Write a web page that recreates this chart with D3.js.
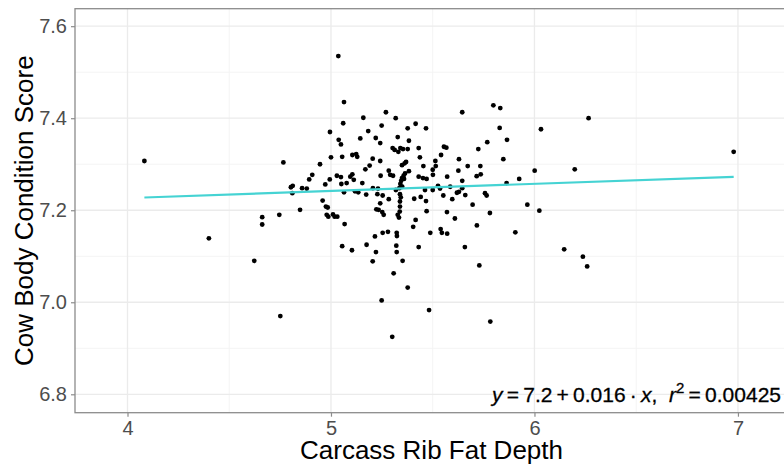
<!DOCTYPE html>
<html>
<head>
<meta charset="utf-8">
<script src="https://cdn.jsdelivr.net/npm/d3@7"></script>
<style>
  html, body { margin: 0; padding: 0; background: #fff; }
  svg { display: block; font-family: "Liberation Sans", Arial, sans-serif; }
</style>
</head>
<body>
<svg id="chart" width="784" height="465"></svg>
<script>
// Carcass rib fat depth (x) vs cow body condition score (y)
const ribFat = [
  5.064, 4.766, 5.270, 5.159, 5.318, 5.060, 5.249, 5.416, 5.377, 5.467,
  5.183, 4.995, 5.645, 5.798, 5.832, 5.829, 5.038, 5.049, 5.144, 5.220,
  5.242, 5.328, 5.383, 5.768, 5.865, 5.303, 5.313, 5.331, 5.341, 5.354,
  5.377, 5.431, 5.555, 5.567, 5.724, 5.000, 5.055, 5.105, 5.124, 5.129,
  5.205, 5.242, 5.437, 5.541, 5.513, 5.629, 5.847, 4.946, 5.190, 5.169,
  5.349, 5.362, 5.369, 5.454, 5.515, 5.500, 5.672, 5.734, 5.284, 5.383,
  5.626, 4.908, 4.893, 4.994, 5.029, 5.049, 5.095, 5.105, 5.112, 5.244,
  5.291, 5.305, 5.364, 5.357, 5.349, 5.345, 5.359, 5.341, 5.431, 5.452,
  5.470, 5.501, 5.571, 5.645, 5.716, 5.736, 5.925, 4.972, 5.051, 5.077,
  5.154, 4.803, 4.812, 4.858, 4.881, 4.810, 5.064, 5.118, 5.134, 5.206,
  5.231, 5.319, 5.336, 5.350, 5.462, 5.500, 5.526, 5.536, 5.586, 5.629,
  5.645, 5.863, 5.173, 5.228, 5.254, 5.339, 5.343, 5.441, 5.552, 5.619,
  5.660, 5.757, 5.765, 4.959, 5.284, 5.339, 5.409, 5.467, 5.596, 4.848,
  4.975, 4.984, 5.242, 5.339, 5.696, 5.223, 5.234, 5.252, 5.259, 5.338,
  5.470, 5.570, 5.781, 4.662, 4.746, 4.979, 4.987, 5.010, 5.018, 5.031,
  5.328, 5.334, 5.416, 5.609, 4.662, 5.067, 5.404, 5.717, 5.216, 5.254,
  5.280, 5.323, 5.324, 5.488, 5.539, 5.545, 5.571, 5.906, 5.055, 5.103,
  5.175, 5.221, 5.321, 5.323, 5.431, 5.658, 4.623, 5.205, 5.352, 5.308,
  5.729, 5.377, 5.249, 5.482, 4.751, 5.783, 5.301, 4.083, 4.400, 5.036,
  6.266, 6.032, 6.001, 6.198, 5.965, 6.024, 6.146, 6.238, 6.259, 6.979
];
const conditionScore = [
  7.435, 7.304, 7.413, 7.401, 7.400, 7.389, 7.384, 7.388, 7.378, 7.378,
  7.372, 7.370, 7.413, 7.428, 7.422, 7.379, 7.353, 7.343, 7.356, 7.357,
  7.346, 7.359, 7.351, 7.348, 7.353, 7.335, 7.331, 7.327, 7.335, 7.333,
  7.333, 7.335, 7.338, 7.336, 7.333, 7.315, 7.316, 7.320, 7.322, 7.316,
  7.312, 7.307, 7.315, 7.320, 7.307, 7.311, 7.311, 7.300, 7.297, 7.289,
  7.298, 7.302, 7.305, 7.296, 7.296, 7.288, 7.296, 7.296, 7.286, 7.285,
  7.286, 7.277, 7.267, 7.267, 7.275, 7.272, 7.273, 7.278, 7.266, 7.275,
  7.277, 7.275, 7.280, 7.275, 7.270, 7.264, 7.268, 7.257, 7.273, 7.270,
  7.268, 7.277, 7.273, 7.264, 7.274, 7.278, 7.268, 7.256, 7.257, 7.259,
  7.259, 7.250, 7.253, 7.248, 7.247, 7.237, 7.239, 7.241, 7.239, 7.248,
  7.247, 7.244, 7.248, 7.251, 7.244, 7.244, 7.253, 7.247, 7.251, 7.240,
  7.248, 7.259, 7.234, 7.235, 7.232, 7.235, 7.228, 7.229, 7.232, 7.238,
  7.233, 7.237, 7.232, 7.221, 7.224, 7.219, 7.225, 7.220, 7.224, 7.201,
  7.208, 7.206, 7.215, 7.208, 7.212, 7.202, 7.201, 7.196, 7.190, 7.197,
  7.198, 7.196, 7.194, 7.185, 7.190, 7.190, 7.186, 7.191, 7.186, 7.186,
  7.190, 7.184, 7.179, 7.182, 7.169, 7.170, 7.164, 7.167, 7.143, 7.151,
  7.153, 7.151, 7.144, 7.151, 7.159, 7.151, 7.149, 7.152, 7.122, 7.113,
  7.125, 7.109, 7.123, 7.109, 7.120, 7.120, 7.090, 7.089, 7.090, 7.063,
  7.080, 7.032, 7.004, 6.983, 6.970, 6.958, 6.925, 7.307, 7.139, 7.535,
  7.400, 7.376, 7.286, 7.289, 7.212, 7.199, 7.115, 7.099, 7.078, 7.327
];

// Fitted line y = intercept + slope * x
const intercept = 7.1643;
const slope = 0.01552;
const rSquared = "0.00425";

const xMajorTicks = [4, 5, 6, 7];
const xMinorTicks = [4.5, 5.5, 6.5];
const yMajorTicks = [6.8, 7.0, 7.2, 7.4, 7.6];
const yMinorTicks = [6.9, 7.1, 7.3, 7.5];

const xTitle = "Carcass Rib Fat Depth";
const yTitle = "Cow Body Condition Score";

const svg = d3.select("#chart");
const panel = { left: 75, top: 8.7, right: 788, bottom: 412.7 };

const x = d3.scaleLinear().domain([3.742, 7.246]).range([panel.left, panel.right]);
const y = d3.scaleLinear().domain([6.76, 7.638]).range([panel.bottom, panel.top]);

const grid = svg.append("g");
grid.selectAll(".xminor").data(xMinorTicks).join("line")
  .attr("x1", d => x(d)).attr("x2", d => x(d))
  .attr("y1", panel.top).attr("y2", panel.bottom)
  .attr("stroke", "#f4f4f4").attr("stroke-width", 1);
grid.selectAll(".yminor").data(yMinorTicks).join("line")
  .attr("y1", d => y(d)).attr("y2", d => y(d))
  .attr("x1", panel.left).attr("x2", panel.right)
  .attr("stroke", "#f4f4f4").attr("stroke-width", 1);
grid.selectAll(".xmajor").data(xMajorTicks).join("line")
  .attr("x1", d => x(d)).attr("x2", d => x(d))
  .attr("y1", panel.top).attr("y2", panel.bottom)
  .attr("stroke", "#ebebeb").attr("stroke-width", 1.3);
grid.selectAll(".ymajor").data(yMajorTicks).join("line")
  .attr("y1", d => y(d)).attr("y2", d => y(d))
  .attr("x1", panel.left).attr("x2", panel.right)
  .attr("stroke", "#ebebeb").attr("stroke-width", 1.3);

// Points
const pts = d3.zip(ribFat, conditionScore);
svg.append("g").selectAll("circle").data(pts).join("circle")
  .attr("cx", d => x(d[0])).attr("cy", d => y(d[1]))
  .attr("r", 2.4).attr("fill", "#000");

// Regression line over the range of the data
const [xmin, xmax] = d3.extent(ribFat);
svg.append("path")
  .datum([xmin, xmax])
  .attr("d", d3.line().x(d => x(d)).y(d => y(intercept + slope * d)))
  .attr("stroke", "#45d3d3").attr("stroke-width", 2.2).attr("fill", "none");

// Panel border
svg.append("rect")
  .attr("x", panel.left).attr("y", panel.top)
  .attr("width", panel.right - panel.left).attr("height", panel.bottom - panel.top)
  .attr("fill", "none").attr("stroke", "#8c8c8c").attr("stroke-width", 1.3);

// Axes
const xAxis = svg.append("g")
  .attr("transform", `translate(0,${panel.bottom})`)
  .call(d3.axisBottom(x).tickValues(xMajorTicks).tickFormat(d3.format("d")).tickSize(4).tickPadding(4));
const yAxis = svg.append("g")
  .attr("transform", `translate(${panel.left},0)`)
  .call(d3.axisLeft(y).tickValues(yMajorTicks).tickFormat(d3.format(".1f")).tickSize(4).tickPadding(4));
[xAxis, yAxis].forEach(a => {
  a.select(".domain").remove();
  a.selectAll(".tick line").attr("stroke", "#8c8c8c").attr("stroke-width", 1.2);
  a.selectAll(".tick text").attr("fill", "#4d4d4d").attr("font-size", 20)
    .attr("font-family", "'Liberation Sans', Arial, sans-serif");
});

// Axis titles
svg.append("text")
  .attr("x", (panel.left + panel.right) / 2).attr("y", 459)
  .attr("text-anchor", "middle").attr("font-size", 26).attr("fill", "#000")
  .text(xTitle);
svg.append("text")
  .attr("transform", `translate(33,${(panel.top + panel.bottom) / 2}) rotate(-90)`)
  .attr("text-anchor", "middle").attr("font-size", 26).attr("fill", "#000")
  .text(yTitle);

// Fit equation
const thin = "\u2009";
const eq = svg.append("text")
  .attr("x", 781).attr("y", 402)
  .attr("text-anchor", "end").attr("font-size", 21).attr("fill", "#000")
  .attr("stroke", "#000").attr("stroke-width", 0.3);
eq.append("tspan").attr("font-style", "italic").text("y");
eq.append("tspan").text(`${thin}=${thin}${intercept.toFixed(1)}${thin}+${thin}${slope.toFixed(3)}${thin}\u00b7${thin}`);
eq.append("tspan").attr("font-style", "italic").text("x");
eq.append("tspan").text(",\u00a0\u00a0");
eq.append("tspan").attr("font-style", "italic").text("r");
eq.append("tspan").attr("font-size", 15).attr("dy", -9).text("2");
eq.append("tspan").attr("dy", 9).text(`${thin}=${thin}${rSquared}`);
</script>
</body>
</html>
